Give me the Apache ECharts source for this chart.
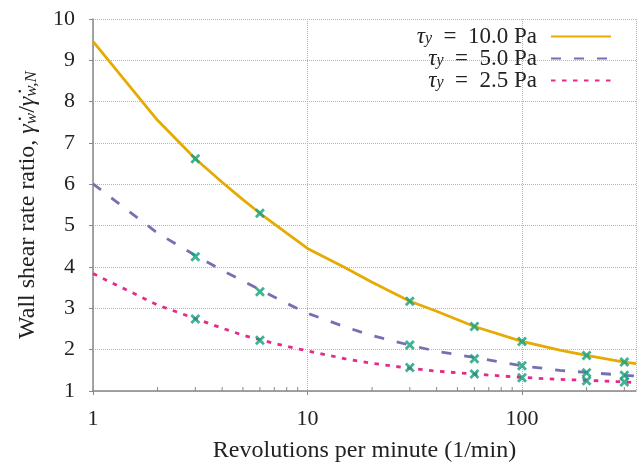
<!DOCTYPE html>
<html>
<head>
<meta charset="utf-8">
<script src="https://cdn.jsdelivr.net/npm/echarts@6/dist/echarts.min.js"></script>
<style>html,body{margin:0;padding:0;background:#fff}#c{width:641px;height:462px}</style>
</head>
<body>
<div id="c"></div>
<script>
// ---- data ----
var rpmCurve = [1, 2, 3, 4, 5, 6, 8, 10, 15, 20, 30, 40, 60, 100, 150, 200, 300, 340];
var tau10Curve = [9.46, 7.55, 6.62, 6.05, 5.63, 5.30, 4.82, 4.45, 3.98, 3.63, 3.17, 2.93, 2.56, 2.20, 1.99, 1.86, 1.70, 1.66];
var tau5Curve = [6.01, 4.82, 4.28, 3.92, 3.66, 3.45, 3.12, 2.88, 2.55, 2.34, 2.11, 1.96, 1.81, 1.61, 1.50, 1.45, 1.38, 1.36];
var tau25Curve = [3.84, 3.08, 2.75, 2.52, 2.35, 2.24, 2.08, 1.97, 1.78, 1.67, 1.55, 1.48, 1.41, 1.33, 1.28, 1.26, 1.22, 1.20];
var rpmMeasured = [3, 6, 30, 60, 100, 200, 300];
var tau10Points = [6.62, 5.30, 3.17, 2.56, 2.20, 1.86, 1.70];
var tau5Points = [4.25, 3.40, 2.11, 1.78, 1.61, 1.44, 1.38];
var tau25Points = [2.74, 2.23, 1.57, 1.41, 1.32, 1.25, 1.22];
var seriesNames = ['{i|τ}{s|y}\u2002=\u200210.0 Pa', '{i|τ}{s|y}\u2002=\u20025.0 Pa', '{i|τ}{s|y}\u2002=\u20022.5 Pa'];
var xMinorTicks = [2, 3, 4, 5, 6, 7, 8, 9, 20, 30, 40, 50, 60, 70, 80, 90, 200, 300];
var xMin = 1, xMax = 340, yMin = 1, yMax = 10;

function zip(xs, ys) { return xs.map(function (x, i) { return [x, ys[i]]; }); }

var FONT = 'Liberation Serif';
var xMark = 'path://M0,2 L2,0 L5,3 L8,0 L10,2 L7,5 L10,8 L8,10 L5,7 L2,10 L0,8 L3,5 Z';
var colors = ['#e6ab02', '#7570b3', '#e7298a'];
var dashes = ['solid', [10, 13], [4.5, 6.5]];
var curves = [tau10Curve, tau5Curve, tau25Curve];
var points = [tau10Points, tau5Points, tau25Points];

var series = [];
for (var k = 0; k < 3; k++) {
  series.push({
    name: seriesNames[k], type: 'line', data: zip(rpmCurve, curves[k]),
    showSymbol: false, symbol: 'none', smooth: false, z: 3,
    lineStyle: { color: colors[k], width: 2.8, type: dashes[k] },
    itemStyle: { color: colors[k] }
  });
}
for (var k = 0; k < 3; k++) {
  series.push({
    type: 'scatter', data: zip(rpmMeasured, points[k]), symbol: xMark, symbolSize: 10,
    itemStyle: { color: '#12a07a' }, z: 5, silent: true
  });
}
series.push({
  type: 'custom', silent: true, clip: false, z: 2,
  data: xMinorTicks.map(function (v) { return [v, yMin]; }),
  renderItem: function (params, api) {
    var p = api.coord([api.value(0), api.value(1)]);
    return { type: 'line', shape: { x1: p[0], y1: p[1], x2: p[0], y2: p[1] - 4 },
      style: { stroke: '#888', lineWidth: 1 } };
  }
});

function makeRich(size) {
  return {
    i: { fontFamily: FONT, fontStyle: 'italic', fontSize: size, lineHeight: 20, color: '#222' },
    s: { fontFamily: FONT, fontStyle: 'italic', fontSize: Math.round(size * 0.7), lineHeight: 6, verticalAlign: 'bottom', color: '#222' }
  };
}

var chart = echarts.init(document.getElementById('c'), null, { renderer: 'canvas' });
chart.setOption({
  animation: false,
  backgroundColor: '#fff',
  grid: { left: 93, right: 5, top: 19, bottom: 71, containLabel: false, outerBoundsMode: 'none' },
  legend: {
    orient: 'vertical', right: 24, top: 20, align: 'right',
    itemWidth: 60, itemHeight: 14, itemGap: -1,
    data: seriesNames,
    itemStyle: { opacity: 0 },
    textStyle: { fontFamily: FONT, fontSize: 23, lineHeight: 20, color: '#222', rich: makeRich(23), padding: [0, 9, 0, 0] }
  },
  xAxis: {
    type: 'log', logBase: 10, min: xMin, max: xMax,
    name: 'Revolutions per minute (1/min)', nameLocation: 'middle', nameGap: 48,
    nameTextStyle: { fontFamily: FONT, fontSize: 24, color: '#222' },
    axisLine: { lineStyle: { color: '#888', width: 1.5 } },
    axisTick: { show: true, inside: false, length: 4, lineStyle: { color: '#888' } },
    axisLabel: { fontFamily: FONT, fontSize: 22, color: '#222', margin: 17, showMaxLabel: false },
    splitLine: { show: true, lineStyle: { color: '#b5b5b5', type: 'dotted', width: 1 } },
    minorTick: { show: false }
  },
  yAxis: {
    type: 'value', min: yMin, max: yMax, interval: 1,
    name: 'Wall shear rate ratio, {i|γ̇}{s|w}/{i|γ̇}{s|w,N}', nameLocation: 'middle', nameGap: 53,
    nameTextStyle: { fontFamily: FONT, fontSize: 24, color: '#222', rich: makeRich(24) },
    axisLine: { show: true, lineStyle: { color: '#888', width: 1.5 } },
    axisTick: { show: true, inside: false, length: 4, lineStyle: { color: '#888' } },
    axisLabel: { fontFamily: FONT, fontSize: 22, color: '#222', margin: 18 },
    splitLine: { show: true, lineStyle: { color: '#b5b5b5', type: 'dotted', width: 1 } }
  },
  series: series
});
</script>
</body>
</html>
